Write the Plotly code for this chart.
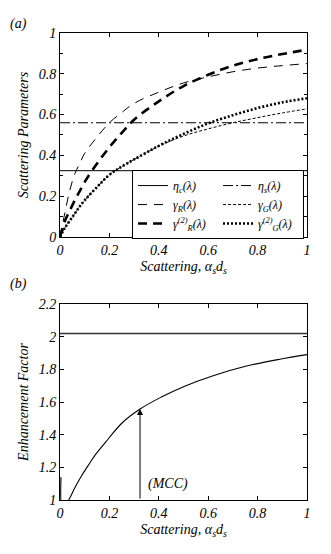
import numpy as np
import plotly.graph_objects as go

# ---------------- data ----------------
# panel (a): scattering parameters vs scattering alpha_s d_s
x_a = [0.0, 0.02, 0.04, 0.06, 0.08, 0.10, 0.15, 0.20, 0.25, 0.30, 0.40, 0.50, 0.60, 0.70, 0.80, 0.90, 1.00]
eta_c = 0.325
eta_s = 0.56
gamma_R = [0.0, 0.12, 0.23, 0.31, 0.36, 0.41, 0.49, 0.56, 0.61, 0.655, 0.71, 0.755, 0.785, 0.81, 0.828, 0.84, 0.85]
gamma2_R = [0.0, 0.08, 0.13, 0.18, 0.225, 0.27, 0.36, 0.44, 0.51, 0.575, 0.665, 0.74, 0.795, 0.84, 0.872, 0.897, 0.918]
gamma_G = [0.0, 0.045, 0.08, 0.115, 0.15, 0.18, 0.245, 0.305, 0.345, 0.38, 0.445, 0.495, 0.53, 0.56, 0.585, 0.608, 0.628]
gamma2_G = [0.0, 0.045, 0.08, 0.115, 0.15, 0.18, 0.245, 0.305, 0.345, 0.38, 0.447, 0.505, 0.557, 0.597, 0.632, 0.66, 0.68]

# panel (b): enhancement factor
x_b = [0.004, 0.01, 0.035, 0.06, 0.088, 0.12, 0.142, 0.196, 0.25, 0.324, 0.41, 0.50, 0.62, 0.755, 0.89, 1.00]
enh = [1.14, 0.95, 1.0, 1.075, 1.15, 1.225, 1.275, 1.375, 1.47, 1.557, 1.63, 1.694, 1.761, 1.82, 1.862, 1.89]
enh_limit = 2.02
x_mcc = 0.324

ticks_x = [0, 0.2, 0.4, 0.6, 0.8, 1]
ticklab_x = ["0", "0.2", "0.4", "0.6", "0.8", "1"]
ticks_ya = [0, 0.2, 0.4, 0.6, 0.8, 1]
ticklab_ya = ["0", "0.2", "0.4", "0.6", "0.8", "1"]
ticks_yb = [1, 1.2, 1.4, 1.6, 1.8, 2, 2.2]
ticklab_yb = ["1", "1.2", "1.4", "1.6", "1.8", "2", "2.2"]

FONT = "Liberation Serif"

fig = go.Figure()

xs = [x_a[0], x_a[-1]]
fig.add_trace(go.Scatter(x=xs, y=[eta_c, eta_c], mode="lines", name="η<sub>c</sub>(λ)",
                         line=dict(color="black", width=1), xaxis="x", yaxis="y"))
fig.add_trace(go.Scatter(x=xs, y=[eta_s, eta_s], mode="lines", name="η<sub>s</sub>(λ)",
                         line=dict(color="black", width=1, dash="10px,3px,2px,3px"), xaxis="x", yaxis="y"))
fig.add_trace(go.Scatter(x=x_a, y=gamma_R, mode="lines", name="γ<sub>R</sub>(λ)", line_shape="spline",
                         line=dict(color="black", width=1, dash="9px,7px"), xaxis="x", yaxis="y"))
fig.add_trace(go.Scatter(x=x_a, y=gamma_G, mode="lines", name="γ<sub>G</sub>(λ)", line_shape="spline",
                         line=dict(color="black", width=1, dash="3px,2px"), xaxis="x", yaxis="y"))
fig.add_trace(go.Scatter(x=x_a, y=gamma2_R, mode="lines", name="γ<sup>(2)</sup><sub>R</sub>(λ)", line_shape="spline",
                         line=dict(color="black", width=2.6, dash="9px,6px"), xaxis="x", yaxis="y"))
fig.add_trace(go.Scatter(x=x_a, y=gamma2_G, mode="lines", name="γ<sup>(2)</sup><sub>G</sub>(λ)", line_shape="spline",
                         line=dict(color="black", width=2.6, dash="2px,2px"), xaxis="x", yaxis="y"))

# panel (b)
fig.add_trace(go.Scatter(x=[0, 1], y=[enh_limit, enh_limit], mode="lines", showlegend=False,
                         line=dict(color="#333333", width=1.5), xaxis="x2", yaxis="y2"))
fig.add_trace(go.Scatter(x=x_b, y=enh, mode="lines", showlegend=False, line_shape="spline",
                         line=dict(color="black", width=1.1), xaxis="x2", yaxis="y2"))

y_mcc = float(np.interp(x_mcc, x_b, enh))
fig.add_annotation(x=x_mcc, y=y_mcc, ax=x_mcc, ay=1.0, xref="x2", yref="y2", axref="x2", ayref="y2",
                   showarrow=True, arrowhead=2, arrowsize=1.2, arrowwidth=1, arrowcolor="black", text="")
fig.add_annotation(x=x_mcc + 0.025, y=1.1, xref="x2", yref="y2", text="(MCC)", showarrow=False,
                   xanchor="left", font=dict(family=FONT, size=14, style="italic", color="black"))

fig.add_annotation(x=-0.21, y=1.04, xref="paper", yref="paper", text="(a)", showarrow=False,
                   xanchor="left", font=dict(family=FONT, size=14, style="italic", color="black"))
fig.add_annotation(x=-0.21, y=0.4625, xref="paper", yref="paper", text="(b)", showarrow=False,
                   xanchor="left", font=dict(family=FONT, size=14, style="italic", color="black"))

axis_common = dict(showline=True, linecolor="black", linewidth=1, mirror="ticks", ticks="inside",
                   ticklen=4, tickcolor="black", showgrid=False, zeroline=False,
                   tickfont=dict(family=FONT, size=14, style="italic", color="black"))

fig.update_layout(
    width=331, height=554, paper_bgcolor="white", plot_bgcolor="white",
    margin=dict(l=60, r=24, t=33, b=54),
    font=dict(family=FONT, color="black"),
    xaxis=dict(domain=[0, 1], anchor="y", range=[0, 1], tickvals=ticks_x, ticktext=ticklab_x,
               title=dict(text="Scattering, α<sub>s</sub>d<sub>s</sub>", standoff=4,
                          font=dict(family=FONT, size=14, style="italic")), **axis_common),
    yaxis=dict(domain=[0.5632, 1], anchor="x", range=[0, 1], tickvals=ticks_ya, ticktext=ticklab_ya,
               minor=dict(dtick=0.1, ticks="inside", ticklen=3, tickcolor="black"),
               title=dict(text="Scattering Parameters", standoff=6,
                          font=dict(family=FONT, size=14, style="italic")), **axis_common),
    xaxis2=dict(domain=[0, 1], anchor="y2", range=[0, 1], tickvals=ticks_x, ticktext=ticklab_x,
                title=dict(text="Scattering, α<sub>s</sub>d<sub>s</sub>", standoff=4,
                           font=dict(family=FONT, size=14, style="italic")), **axis_common),
    yaxis2=dict(domain=[0, 0.4197], anchor="x2", range=[1, 2.2], tickvals=ticks_yb, ticktext=ticklab_yb,
                title=dict(text="Enhancement Factor", standoff=6,
                           font=dict(family=FONT, size=14, style="italic")), **axis_common),
    legend=dict(orientation="h", x=0.988, xanchor="right", y=0.7065, yanchor="top",
                entrywidth=40, bgcolor="white", bordercolor="black", borderwidth=1,
                font=dict(family=FONT, size=12, style="italic", color="black"),
                itemwidth=30, tracegroupgap=0),
)

fig.write_html("out.html", config={"displayModeBar": False},
               post_script="document.body.style.margin='0';")
